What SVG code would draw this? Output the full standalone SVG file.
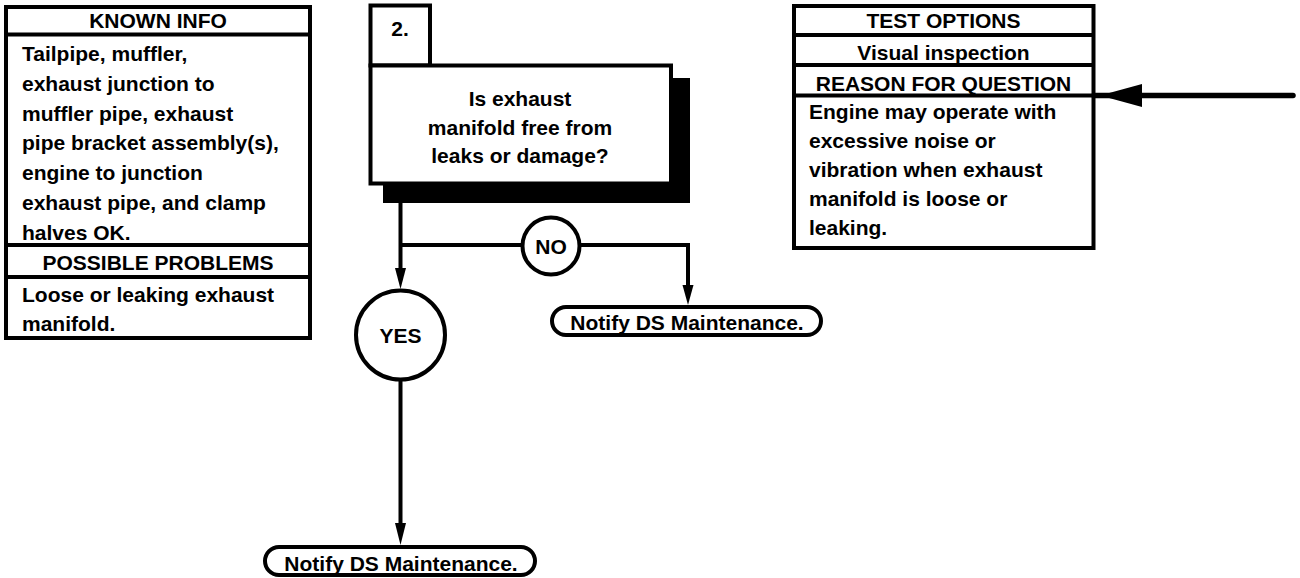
<svg xmlns="http://www.w3.org/2000/svg" width="1300" height="578" viewBox="0 0 1300 578">
<style>
  text { font-family: "Liberation Sans", Arial, sans-serif; font-weight: bold; font-size: 21px; fill: #000; }
  .c { text-anchor: middle; }
  .box { fill: #fff; stroke: #000; stroke-width: 4; }
  .sep { stroke: #000; stroke-width: 4; }
  .ln { fill: none; stroke: #000; stroke-width: 4; }
  .ah { fill: #000; stroke: none; }
</style>
<rect width="1300" height="578" fill="#fff"/>

<g id="known-info">
  <rect class="box" x="6" y="7" width="304" height="331"/>
  <line class="sep" x1="6" y1="34.5" x2="310" y2="34.5"/>
  <line class="sep" x1="6" y1="245" x2="310" y2="245"/>
  <line class="sep" x1="6" y1="277" x2="310" y2="277"/>
  <text class="c" x="158" y="28">KNOWN INFO</text>
  <text x="22" y="61">Tailpipe, muffler,</text>
  <text x="22" y="90.8">exhaust junction to</text>
  <text x="22" y="120.6">muffler pipe, exhaust</text>
  <text x="22" y="150.4">pipe bracket assembly(s),</text>
  <text x="22" y="180.2">engine to junction</text>
  <text x="22" y="210">exhaust pipe, and clamp</text>
  <text x="22" y="239.8">halves OK.</text>
  <text class="c" x="158" y="269.5">POSSIBLE PROBLEMS</text>
  <text x="22" y="302">Loose or leaking exhaust</text>
  <text x="22" y="331">manifold.</text>
</g>

<g id="step-2">
  <rect x="383" y="78" width="307" height="125" fill="#000"/>
  <rect class="box" x="370.5" y="5.5" width="59.5" height="60"/>
  <rect class="box" x="370.5" y="65.5" width="300.5" height="118"/>
  <text class="c" x="400" y="36">2.</text>
  <text class="c" x="520" y="106">Is exhaust</text>
  <text class="c" x="520" y="134.5">manifold free from</text>
  <text class="c" x="520" y="163">leaks or damage?</text>
</g>

<g id="test-options">
  <rect class="box" x="794" y="6" width="299.5" height="242"/>
  <line class="sep" x1="794" y1="35" x2="1093.5" y2="35"/>
  <line class="sep" x1="794" y1="65" x2="1093.5" y2="65"/>
  <line class="sep" x1="794" y1="95.5" x2="1093.5" y2="95.5" stroke-width="5"/>
  <text class="c" x="943.5" y="28">TEST OPTIONS</text>
  <text class="c" x="943.5" y="60">Visual inspection</text>
  <text class="c" x="943.5" y="90.5">REASON FOR QUESTION</text>
  <text x="809" y="119">Engine may operate with</text>
  <text x="809" y="148">excessive noise or</text>
  <text x="809" y="177">vibration when exhaust</text>
  <text x="809" y="206">manifold is loose or</text>
  <text x="809" y="235">leaking.</text>
</g>

<g id="no-label">
  <circle class="box" cx="551" cy="246" r="28.5"/>
  <text class="c" x="551" y="253.5">NO</text>
</g>

<g id="yes-label">
  <circle class="box" cx="400.5" cy="335" r="44.5"/>
  <text class="c" x="400.5" y="342.5">YES</text>
</g>

<g id="notify-no">
  <rect class="box" x="552" y="307" width="269" height="28" rx="14"/>
  <text class="c" x="687" y="330">Notify DS Maintenance.</text>
</g>

<g id="notify-yes">
  <rect class="box" x="265" y="547" width="270" height="28" rx="14"/>
  <text class="c" x="401" y="571">Notify DS Maintenance.</text>
</g>

<g id="connectors">
  <path class="ln" d="M400.5,203 V270"/>
  <polygon class="ah" points="395,268 406,268 400.5,289"/>
  <path class="ln" d="M400.5,245 H522.5"/>
  <path class="ln" d="M579.5,245 H688 V287"/>
  <polygon class="ah" points="682.5,285 693.5,285 688,305"/>
  <path class="ln" d="M400.5,379.5 V525"/>
  <polygon class="ah" points="395,523 406,523 400.5,545"/>
  <path d="M1293,95.5 H1094" fill="none" stroke="#000" stroke-width="5.5" stroke-linecap="round"/>
  <polygon class="ah" points="1100,95.5 1142,84 1142,107"/>
</g>
</svg>
